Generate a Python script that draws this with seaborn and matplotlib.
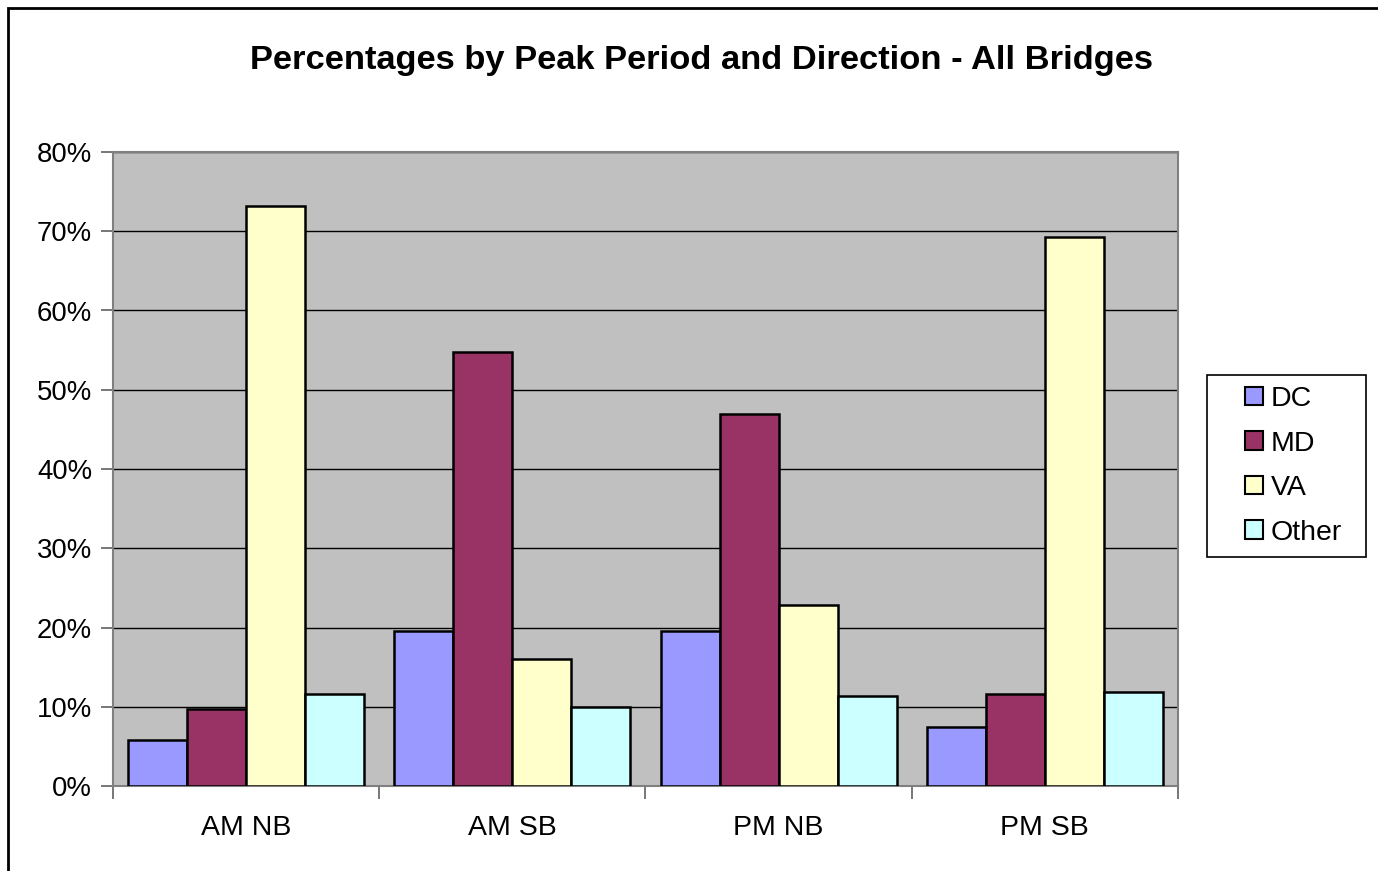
import pandas as pd
import seaborn as sns
import matplotlib.pyplot as plt
from matplotlib.patches import Rectangle

# values (percent)
periods = ['AM NB', 'AM SB', 'PM NB', 'PM SB']
states = ['DC', 'MD', 'VA', 'Other']
dc = [5.8, 19.6, 19.6, 7.4]
md = [9.7, 54.8, 46.9, 11.6]
va = [73.2, 16.0, 22.8, 69.3]
other = [11.6, 10.0, 11.4, 11.9]
colors = ['#9999FF', '#993366', '#FFFFCC', '#CCFFFF']

df = pd.DataFrame({'period': periods, 'DC': dc, 'MD': md, 'VA': va, 'Other': other})
long = df.melt(id_vars='period', var_name='state', value_name='pct')

sns.set_style("white")
plt.rcParams['font.family'] = ['Liberation Sans', 'DejaVu Sans']
plt.rcParams['text.color'] = 'black'
plt.rcParams['xtick.color'] = 'black'
plt.rcParams['ytick.color'] = 'black'

fig = plt.figure(figsize=(13.78, 8.71), dpi=100)
ax = fig.add_axes([113/1378, 1-786/871, (1178-113)/1378, (786-152)/871])
ax.set_facecolor('#C0C0C0')

sns.barplot(data=long, x='period', y='pct', hue='state', hue_order=states,
            order=periods, palette=colors, saturation=1, width=0.887,
            edgecolor='black', linewidth=1.8, ax=ax, zorder=3, gap=0)

ax.set_ylim(0, 80)
ax.set_xlim(-0.5, 3.5)
ax.set_yticks(range(0, 81, 10))
ax.set_yticklabels([f'{v}%' for v in range(0, 81, 10)])
ax.yaxis.grid(True, color='black', linewidth=1)
ax.set_axisbelow(True)
ax.set_xlabel('')
ax.set_ylabel('')
ax.set_xticks([0.5*i - 0.5 for i in range(0, 9, 2)], minor=True)
ax.tick_params(axis='x', which='major', length=0, labelsize=20.5, pad=21)
ax.tick_params(axis='x', which='minor', length=9, width=1.2, color='#606060', direction='out')
ax.tick_params(axis='y', length=9, width=1.2, color='#606060', direction='out', labelsize=19.8, pad=6)
ax.tick_params(bottom=True, left=True, which='both')
for s in ax.spines.values():
    s.set_color('#808080')
    s.set_linewidth(1.5)

fig.text(701/1378, 1-60/871, 'Percentages by Peak Period and Direction - All Bridges',
         fontsize=24.8, fontweight='bold', ha='center', va='center')

handles, labels = ax.get_legend_handles_labels()
ax.get_legend().remove()
leg = fig.legend(handles, labels, loc='upper left',
                 bbox_to_anchor=(1245/1378, 1-386/871), bbox_transform=fig.transFigure,
                 fontsize=20.5, frameon=False,
                 handlelength=0.62, handleheight=0.62, handletextpad=0.28,
                 labelspacing=0.65, borderpad=0, borderaxespad=0)
for h in leg.legend_handles:
    h.set_edgecolor('black')
    h.set_linewidth(1.5)
fig.patches.append(Rectangle((1207/1378, 1-557/871), 159/1378, 182/871,
                             transform=fig.transFigure, fill=False,
                             edgecolor='black', linewidth=1.2))

# outer chart-area border
fig.patches.append(Rectangle((8/1378, -0.05), 1.1, 1-8/871+0.05, transform=fig.transFigure,
                             fill=False, edgecolor='black', linewidth=2))

plt.savefig('out.png', dpi=100)
